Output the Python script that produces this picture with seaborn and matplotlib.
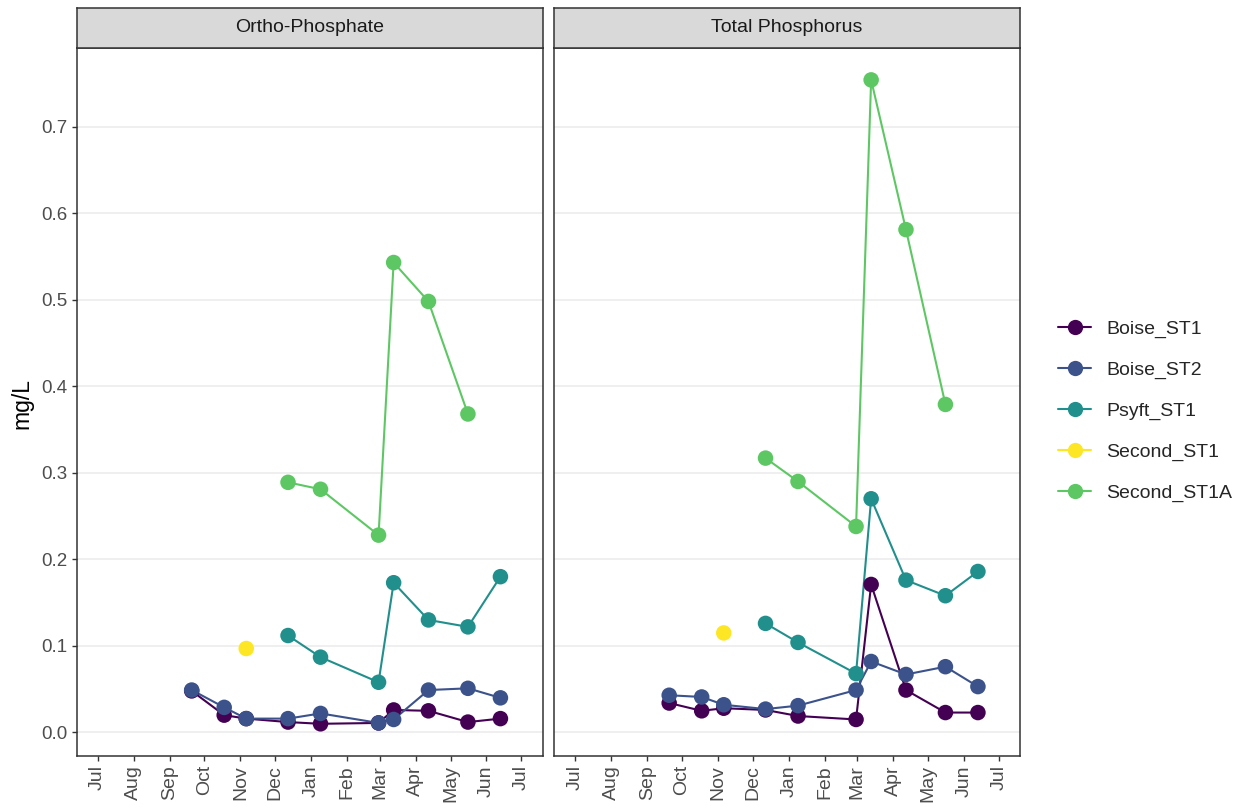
import pandas as pd
import matplotlib
matplotlib.use("Agg")
import matplotlib.pyplot as plt
import matplotlib.dates as mdates
from matplotlib.lines import Line2D
import seaborn as sns

# sites / colours (legend order)
sites = ["Boise_ST1", "Boise_ST2", "Psyft_ST1", "Second_ST1", "Second_ST1A"]
site_colors = ["#440154", "#3B528B", "#21908C", "#FDE725", "#5DC863"]
params = ["Ortho-Phosphate", "Total Phosphorus"]

# sampling dates
dates_boise = ["2020-09-20", "2020-10-18", "2020-11-06", "2020-12-12", "2021-01-09",
               "2021-02-28", "2021-03-13", "2021-04-12", "2021-05-16", "2021-06-13"]
dates_psyft = ["2020-12-12", "2021-01-09", "2021-02-28", "2021-03-13", "2021-04-12",
               "2021-05-16", "2021-06-13"]
dates_second = ["2020-11-06"]
dates_second_a = ["2020-12-12", "2021-01-09", "2021-02-28", "2021-03-13", "2021-04-12",
                  "2021-05-16"]

# Ortho-Phosphate (mg/L)
op_boise_st1 = [0.048, 0.020, 0.016, 0.012, 0.010, 0.011, 0.026, 0.025, 0.012, 0.016]
op_boise_st2 = [0.049, 0.029, 0.016, 0.016, 0.022, 0.011, 0.015, 0.049, 0.051, 0.040]
op_psyft_st1 = [0.112, 0.087, 0.058, 0.173, 0.130, 0.122, 0.180]
op_second_st1 = [0.097]
op_second_st1a = [0.289, 0.281, 0.228, 0.543, 0.498, 0.368]

# Total Phosphorus (mg/L)
tp_boise_st1 = [0.034, 0.025, 0.028, 0.026, 0.019, 0.015, 0.171, 0.049, 0.023, 0.023]
tp_boise_st2 = [0.043, 0.041, 0.032, 0.027, 0.031, 0.049, 0.082, 0.067, 0.076, 0.053]
tp_psyft_st1 = [0.126, 0.104, 0.068, 0.270, 0.176, 0.158, 0.186]
tp_second_st1 = [0.115]
tp_second_st1a = [0.317, 0.290, 0.238, 0.754, 0.581, 0.379]

series = [
    ("Ortho-Phosphate", "Boise_ST1", dates_boise, op_boise_st1),
    ("Ortho-Phosphate", "Boise_ST2", dates_boise, op_boise_st2),
    ("Ortho-Phosphate", "Psyft_ST1", dates_psyft, op_psyft_st1),
    ("Ortho-Phosphate", "Second_ST1", dates_second, op_second_st1),
    ("Ortho-Phosphate", "Second_ST1A", dates_second_a, op_second_st1a),
    ("Total Phosphorus", "Boise_ST1", dates_boise, tp_boise_st1),
    ("Total Phosphorus", "Boise_ST2", dates_boise, tp_boise_st2),
    ("Total Phosphorus", "Psyft_ST1", dates_psyft, tp_psyft_st1),
    ("Total Phosphorus", "Second_ST1", dates_second, tp_second_st1),
    ("Total Phosphorus", "Second_ST1A", dates_second_a, tp_second_st1a),
]
rows = []
for p, s, d, v in series:
    for dd, vv in zip(d, v):
        rows.append({"param": p, "site": s, "date": pd.to_datetime(dd), "value": vv})
df = pd.DataFrame(rows)

pal = dict(zip(sites, site_colors))

sns.set_theme(style="white")
plt.rcParams["font.family"] = ["Liberation Sans", "DejaVu Sans"]

W, H = 1249, 809
fig = plt.figure(figsize=(W / 100, H / 100), dpi=100)

# y range like ggplot (5% expansion)
ymin, ymax = df["value"].min(), df["value"].max()
yr = ymax - ymin
ylim = (ymin - 0.05 * yr, ymax + 0.05 * yr)
x0, x1 = pd.Timestamp("2020-07-01"), pd.Timestamp("2021-07-01")
xr = x1 - x0
xlim = (x0 - 0.05 * xr, x1 + 0.05 * xr)

panel_left = [76.5, 554]
panel_w = 466
panel_top, panel_bot = 47.7, 756
strip_top = 8

for i, p in enumerate(params):
    ax = fig.add_axes([panel_left[i] / W, (H - panel_bot) / H, panel_w / W, (panel_bot - panel_top) / H])
    sub = df[df["param"] == p]
    sns.lineplot(data=sub, x="date", y="value", hue="site", hue_order=sites, palette=pal,
                 estimator=None, sort=True, linewidth=1.5, legend=False, ax=ax, zorder=2)
    sns.scatterplot(data=sub, x="date", y="value", hue="site", hue_order=sites, palette=pal,
                    s=125, linewidth=0, legend=False, ax=ax, zorder=3)
    ax.set_xlim(xlim)
    ax.set_ylim(ylim)
    ax.set_yticks([0.0, 0.1, 0.2, 0.3, 0.4, 0.5, 0.6, 0.7])
    ax.yaxis.set_major_formatter(matplotlib.ticker.FormatStrFormatter("%.1f"))
    ax.xaxis.set_major_locator(mdates.MonthLocator())
    ax.xaxis.set_major_formatter(mdates.DateFormatter("%b"))
    ax.set_xlabel("")
    ax.set_ylabel("")
    ax.set_axisbelow(True)
    ax.yaxis.grid(True, color="#EBEBEB", linewidth=1.1)
    ax.xaxis.grid(False)
    for sp in ax.spines.values():
        sp.set_color("#333333")
        sp.set_linewidth(1.1)
    ax.tick_params(axis="x", length=3.5, width=1, color="#333333", labelcolor="#4D4D4D",
                   labelsize=14, rotation=90, pad=3, bottom=True)
    if i == 0:
        ax.tick_params(axis="y", length=3.5, width=1, color="#333333", labelcolor="#4D4D4D",
                       labelsize=13.5, pad=3, left=True)
    else:
        ax.tick_params(axis="y", left=False, labelleft=False)

    # facet strip
    sax = fig.add_axes([panel_left[i] / W, (H - panel_top) / H, panel_w / W, (panel_top - strip_top) / H])
    sax.set_facecolor("#D9D9D9")
    sax.set_xticks([])
    sax.set_yticks([])
    for sp in sax.spines.values():
        sp.set_color("#333333")
        sp.set_linewidth(1.1)
    sax.text(0.5, 0.5, p, ha="center", va="center", fontsize=14, color="#1A1A1A",
             transform=sax.transAxes)

fig.text(22 / W, (H - 403) / H, "mg/L", rotation=90, ha="center", va="center",
         fontsize=16.5, color="black")

handles = [Line2D([0], [0], color=c, lw=1.5, marker="o", markersize=11, markeredgewidth=0)
           for c in site_colors]
fig.legend(handles, sites, loc="center left", bbox_to_anchor=(1058 / W, (H - 411) / H),
           frameon=False, fontsize=14, handlelength=1.7, handletextpad=0.8,
           labelspacing=1.2, borderpad=0, borderaxespad=0)

fig.savefig("out.png", dpi=100)
